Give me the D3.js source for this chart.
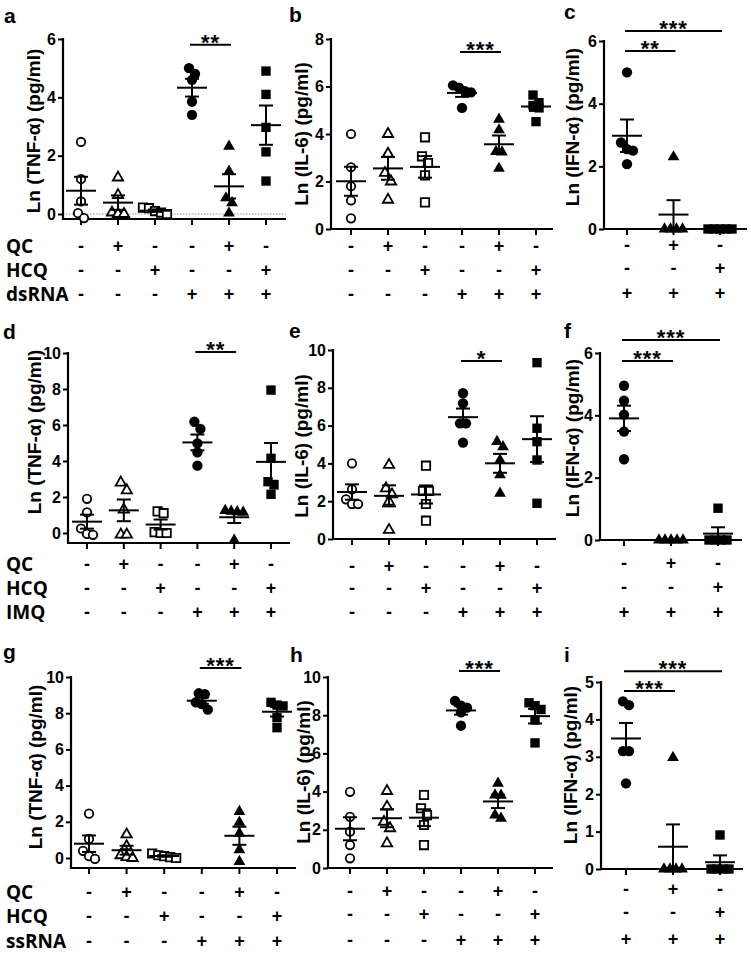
<!DOCTYPE html>
<html>
<head>
<meta charset="utf-8">
<script src="https://cdn.jsdelivr.net/npm/d3@7"></script>
<style>
  body { margin: 0; background: #fff; }
  svg { display: block; }
  text { font-family: "Liberation Sans", Arial, sans-serif; font-weight: bold; fill: #000; }
  .rowlab { font-family: "Open Sans", "Liberation Sans", sans-serif; }
</style>
</head>
<body>
<div id="chart"></div>
<script>
// Ln(pg/ml) values, five mice per group
// six-group panels: -, QC, HCQ, stim, stim+QC, stim+HCQ
const tnfDsRNA = [[2.47, 1.2, 0.43, 0.03, -0.14], [1.25, 0.65, 0.05, 0.0, 0.0], [0.22, 0.2, 0.1, 0.05, 0.0],
                  [5.0, 4.8, 4.6, 3.85, 3.4], [2.32, 1.46, 0.55, 0.38, 0.03], [4.9, 4.1, 2.97, 2.13, 1.13]]
const il6DsRNA = [[4.0, 2.6, 1.8, 1.2, 0.45], [4.0, 3.17, 2.36, 2.0, 1.23], [3.86, 3.06, 2.78, 2.26, 1.12],
                  [6.05, 5.95, 5.8, 5.75, 5.1], [4.62, 4.17, 3.26, 3.24, 2.55], [5.64, 5.32, 5.2, 5.1, 4.52]]
const tnfIMQ = [[1.9, 1.15, 0.25, -0.05, -0.1], [2.8, 2.37, 1.3, -0.09, -0.09], [1.2, 1.1, 0.05, 0.0, 0.0],
                [6.18, 5.78, 4.98, 4.48, 3.74], [1.25, 1.2, 1.18, 1.15, -0.4], [7.94, 4.15, 2.85, 2.67, 2.15]]
const il6IMQ = [[4.0, 2.63, 2.1, 1.85, 1.85], [3.92, 2.68, 2.36, 1.98, 0.48], [3.88, 2.54, 2.54, 1.85, 0.97],
                [7.71, 7.18, 6.12, 6.12, 5.1], [5.15, 4.88, 4.18, 3.39, 2.42], [9.33, 5.86, 5.15, 4.18, 1.89]]
const tnfSsRNA = [[2.45, 1.05, 0.4, 0.1, -0.05], [1.3, 0.65, 0.15, 0.05, 0.0], [0.25, 0.15, 0.1, 0.05, 0.0],
                  [9.1, 9.05, 8.6, 8.5, 8.2], [2.56, 1.97, 1.36, 0.45, -0.2], [8.6, 8.45, 8.4, 7.75, 7.2]]
const il6SsRNA = [[3.99, 2.68, 1.9, 1.2, 0.51], [4.03, 3.21, 2.42, 2.08, 1.29], [3.82, 3.13, 2.77, 2.25, 1.2],
                  [8.75, 8.5, 8.4, 8.15, 7.45], [4.43, 3.82, 3.8, 2.77, 2.6], [8.65, 8.5, 8.3, 7.75, 6.55]]
// three-group panels: stim, stim+QC, stim+HCQ
const ifnDsRNA = [[5.0, 2.76, 2.55, 2.5, 2.07], [2.3, 0, 0, 0, 0], [0, 0, 0, 0, 0]]
const ifnIMQ = [[4.95, 4.47, 4.02, 3.48, 2.59], [0, 0, 0, 0, 0], [1.02, 0, 0, 0, 0]]
const ifnSsRNA = [[4.48, 4.38, 3.15, 3.15, 2.29], [2.98, 0, 0, 0, 0], [0.91, 0, 0, 0, 0]]

// treatment rows under the x axis
const qcRow6 = ['-', '+', '-', '-', '+', '-']
const hcqRow6 = ['-', '-', '+', '-', '-', '+']
const stimRow6 = ['-', '-', '-', '+', '+', '+']
const qcRow3 = ['-', '+', '-']
const hcqRow3 = ['-', '-', '+']
const stimRow3 = ['+', '+', '+']
const stimuli = ['dsRNA', 'IMQ', 'ssRNA']

// significance brackets (group indices, height in data units)
const sigA = [{from: 3, to: 4, level: 5.8, label: '**'}]
const sigB = [{from: 3, to: 4, level: 7.45, label: '***'}]
const sigC = [{from: 0, to: 1, level: 5.68, label: '**'}, {from: 0, to: 2, level: 6.32, label: '***'}]
const sigD = [{from: 3, to: 4, level: 10.06, label: '**'}]
const sigE = [{from: 3, to: 4, level: 9.42, label: '*'}]
const sigF = [{from: 0, to: 1, level: 5.74, label: '***'}, {from: 0, to: 2, level: 6.42, label: '***'}]
const sigG = [{from: 3, to: 4, level: 10.5, label: '***'}]
const sigH = [{from: 3, to: 4, level: 10.31, label: '***'}]
const sigI = [{from: 0, to: 1, level: 4.76, label: '***'}, {from: 0, to: 2, level: 5.29, label: '***'}]

// layout for each panel (pixels)
const panels = [
  {letter: 'a', lx: 4, ly: 23, data: tnfDsRNA, sig: sigA, ylab: 'Ln (TNF-α) (pg/ml)', ymax: 6, step: 2,
   ax: 63, xEnd: 286, gx: [81, 266], yTop: 39, y0: 214, yBot: 219, labX: 33, labY: 131, zeroLine: true,
   rows: [qcRow6, hcqRow6, stimRow6], rowY: [246, 270, 294], stim: stimuli[0]},
  {letter: 'b', lx: 289, ly: 22, data: il6DsRNA, sig: sigB, ylab: 'Ln (IL-6) (pg/ml)', ymax: 8, step: 2,
   ax: 331, xEnd: 553, gx: [351, 536], yTop: 39, y0: 229, yBot: 229, labX: 301, labY: 134,
   rows: [qcRow6, hcqRow6, stimRow6], rowY: [246, 270, 294]},
  {letter: 'c', lx: 564, ly: 19, data: ifnDsRNA, sig: sigC, ylab: 'Ln (IFN-α) (pg/ml)', ymax: 6, step: 2,
   ax: 604, xEnd: 747, gx: [627, 720], yTop: 41, y0: 229, yBot: 229, labX: 572, labY: 127,
   rows: [qcRow3, hcqRow3, stimRow3], rowY: [245, 268, 293]},
  {letter: 'd', lx: 3, ly: 339, data: tnfIMQ, sig: sigD, ylab: 'Ln (TNF-α) (pg/ml)', ymax: 10, step: 2,
   ax: 68, xEnd: 290, gx: [87, 271], yTop: 353, y0: 533, yBot: 543, labX: 34, labY: 432,
   rows: [qcRow6, hcqRow6, stimRow6], rowY: [564, 588, 612], stim: stimuli[1]},
  {letter: 'e', lx: 289, ly: 338, data: il6IMQ, sig: sigE, ylab: 'Ln (IL-6) (pg/ml)', ymax: 10, step: 2,
   ax: 333, xEnd: 556, gx: [352, 537], yTop: 350, y0: 539, yBot: 539, labX: 301, labY: 446,
   rows: [qcRow6, hcqRow6, stimRow6], rowY: [566, 588, 612]},
  {letter: 'f', lx: 564, ly: 338, data: ifnIMQ, sig: sigF, ylab: 'Ln (IFN-α) (pg/ml)', ymax: 6, step: 2,
   ax: 600, xEnd: 742, gx: [624, 718], yTop: 353, y0: 540, yBot: 540, labX: 572, labY: 438,
   rows: [qcRow3, hcqRow3, stimRow3], rowY: [563, 587, 612]},
  {letter: 'g', lx: 3, ly: 659, data: tnfSsRNA, sig: sigG, ylab: 'Ln (TNF-α) (pg/ml)', ymax: 10, step: 2,
   ax: 71, xEnd: 296, gx: [89, 277], yTop: 677, y0: 858, yBot: 868, labX: 35, labY: 767,
   rows: [qcRow6, hcqRow6, stimRow6], rowY: [892, 916, 941], stim: stimuli[2]},
  {letter: 'h', lx: 290, ly: 662, data: il6SsRNA, sig: sigH, ylab: 'Ln (IL-6) (pg/ml)', ymax: 10, step: 2,
   ax: 328, xEnd: 553, gx: [350, 535], yTop: 677, y0: 868, yBot: 868, labX: 303, labY: 772,
   rows: [qcRow6, hcqRow6, stimRow6], rowY: [891, 914, 940]},
  {letter: 'i', lx: 564, ly: 662, data: ifnSsRNA, sig: sigI, ylab: 'Ln (IFN-α) (pg/ml)', ymax: 5, step: 1,
   ax: 601, xEnd: 743, gx: [626, 720], yTop: 682, y0: 869, yBot: 869, labX: 570, labY: 765,
   rows: [qcRow3, hcqRow3, stimRow3], rowY: [889, 912, 939]}
]

const shapes = [d3.symbolCircle, d3.symbolTriangle, d3.symbolSquare]
const openSize = [56, 46, 70]
const fillSize = [84, 60, 88]

const svg = d3.create('svg')
    .attr('width', 751)
    .attr('height', 954)
    .attr('viewBox', [0, 0, 751, 954])

svg.append('rect').attr('width', 751).attr('height', 954).attr('fill', '#fff')

panels.forEach(p => drawPanel(svg, p))

d3.select('#chart').append(() => svg.node())

/**
 * spreads points of one group sideways: points closer than `gap` px
 * vertically share a row and are centred around the group x
 */
function swarm(pys, gap, spacing) {
    const order = d3.range(pys.length).sort((a, b) => pys[a] - pys[b])
    const offs = new Array(pys.length).fill(0)
    let row = []
    const flush = () => {
        row.forEach((idx, k) => offs[idx] = (k - (row.length - 1) / 2) * spacing)
        row = []
    }
    order.forEach(idx => {
        if (row.length && pys[idx] - pys[row[0]] >= gap) flush()
        row.push(idx)
    })
    flush()
    return offs
}

function drawPanel(svg, p) {
    const g = svg.append('g')
    const n = p.data.length
    const x = d3.scalePoint().domain(d3.range(n)).range(p.gx)
    const y = d3.scaleLinear().domain([0, p.ymax]).range([p.y0, p.yTop])

    //panel letter
    g.append('text')
        .attr('x', p.lx).attr('y', p.ly)
        .style('font-size', '21px')
        .text(p.letter)

    //dotted zero line
    if (p.zeroLine) {
        g.append('line')
            .attr('x1', p.ax).attr('x2', p.xEnd)
            .attr('y1', y(0)).attr('y2', y(0))
            .attr('stroke', '#777').attr('stroke-width', 0.8)
            .attr('stroke-dasharray', '1.5,1.5')
    }

    //y axis
    const yAxis = g.append('g')
        .attr('transform', `translate(${p.ax},0)`)
        .call(d3.axisLeft(y)
            .tickValues(d3.range(0, p.ymax + 1e-9, p.step))
            .tickFormat(d3.format('d'))
            .tickSize(5).tickPadding(2))
    yAxis.select('.domain').remove()
    yAxis.selectAll('.tick line').attr('stroke', '#000').attr('stroke-width', 2)
    yAxis.selectAll('.tick text')
        .style('font-size', '16px')
        .style('font-family', '"Liberation Sans", Arial, sans-serif')
        .style('font-weight', 'bold')
    g.append('line')
        .attr('x1', p.ax).attr('x2', p.ax)
        .attr('y1', p.yTop - 1).attr('y2', p.yBot + 1)
        .attr('stroke', '#000').attr('stroke-width', 2.2)

    //x axis
    g.append('line')
        .attr('x1', p.ax - 1).attr('x2', p.xEnd)
        .attr('y1', p.yBot).attr('y2', p.yBot)
        .attr('stroke', '#000').attr('stroke-width', 2.2)
    g.append('g')
        .selectAll('line')
        .data(d3.range(n))
        .join('line')
        .attr('x1', d => x(d)).attr('x2', d => x(d))
        .attr('y1', p.yBot).attr('y2', p.yBot + 6)
        .attr('stroke', '#000').attr('stroke-width', 2)

    //y label
    g.append('text')
        .attr('transform', `translate(${p.labX},${p.labY}) rotate(-90)`)
        .attr('text-anchor', 'middle')
        .attr('dominant-baseline', 'central')
        .style('font-size', '19px')
        .text(p.ylab)

    //points, then mean and SEM on top
    p.data.forEach((vals, gi) => {
        const shapeIdx = gi % 3
        const open = n === 6 && gi < 3
        const pys = vals.map(v => y(v))
        const offs = swarm(pys, 9, 6)
        const sym = d3.symbol().type(shapes[shapeIdx]).size(open ? openSize[shapeIdx] : fillSize[shapeIdx])

        g.append('g')
            .selectAll('path')
            .data(vals)
            .join('path')
            .attr('d', sym)
            .attr('transform', (v, i) => `translate(${x(gi) + offs[i]},${pys[i]})`)
            .attr('fill', open ? '#fff' : '#000')
            .attr('stroke', '#000')
            .attr('stroke-width', open ? 1.8 : 0)

        const mean = d3.mean(vals)
        const sem = (d3.deviation(vals) || 0) / Math.sqrt(vals.length)
        const cx = x(gi)
        const err = g.append('g').attr('stroke', '#000').attr('stroke-width', 2)
        err.append('line')
            .attr('x1', cx - 15).attr('x2', cx + 15)
            .attr('y1', y(mean)).attr('y2', y(mean))
        if (sem > 0) {
            err.append('line')
                .attr('x1', cx).attr('x2', cx)
                .attr('y1', y(mean - sem)).attr('y2', y(mean + sem))
            err.selectAll('.cap')
                .data([mean - sem, mean + sem])
                .join('line')
                .attr('x1', cx - 7).attr('x2', cx + 7)
                .attr('y1', d => y(d)).attr('y2', d => y(d))
        }
    })

    //significance brackets
    p.sig.forEach(s => {
        const by = y(s.level)
        g.append('line')
            .attr('x1', x(s.from) - 2).attr('x2', x(s.to) + 2)
            .attr('y1', by).attr('y2', by)
            .attr('stroke', '#000').attr('stroke-width', 2)
        g.append('text')
            .attr('x', (x(s.from) + x(s.to)) / 2)
            .attr('y', by + 5)
            .attr('text-anchor', 'middle')
            .style('font-size', '22px')
            .style('letter-spacing', '1px')
            .text(s.label)
    })

    //treatment signs
    p.rows.forEach((row, ri) => {
        g.append('g')
            .selectAll('text')
            .data(row)
            .join('text')
            .attr('x', (_, i) => x(i))
            .attr('y', p.rowY[ri])
            .attr('text-anchor', 'middle')
            .attr('dominant-baseline', 'central')
            .style('font-size', '18px')
            .text(d => d)
    })

    //row names on the left column
    if (p.stim) {
        g.append('g')
            .selectAll('text')
            .data(['QC', 'HCQ', p.stim])
            .join('text')
            .attr('class', 'rowlab')
            .attr('x', 6)
            .attr('y', (_, i) => p.rowY[i])
            .attr('dominant-baseline', 'central')
            .style('font-size', '19px')
            .text(d => d)
    }
}
</script>
</body>
</html>
